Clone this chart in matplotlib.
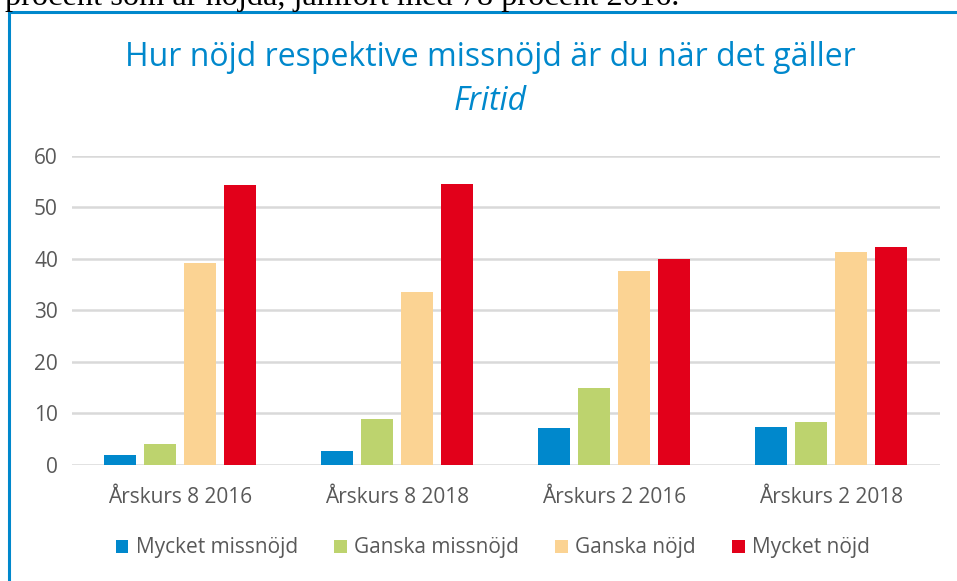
import numpy as np
import matplotlib.pyplot as plt
from matplotlib.lines import Line2D

plt.rcParams['font.family'] = ['Open Sans', 'DejaVu Sans']

# data
groups = ['Årskurs 8 2016', 'Årskurs 8 2018', 'Årskurs 2 2016', 'Årskurs 2 2018']
series = ['Mycket missnöjd', 'Ganska missnöjd', 'Ganska nöjd', 'Mycket nöjd']
mycket_missnojd = [1.9, 2.7, 7.2, 7.3]
ganska_missnojd = [4.1, 8.9, 15.0, 8.3]
ganska_nojd = [39.2, 33.6, 37.7, 41.4]
mycket_nojd = [54.4, 54.6, 40.0, 42.4]
colors = ['#0088CC', '#BDD36E', '#FBD393', '#E2001A']

values = [mycket_missnojd, ganska_missnojd, ganska_nojd, mycket_nojd]

fig = plt.figure(figsize=(9.57, 5.81), dpi=100)
ax = fig.add_axes([0.075, 0.1997, 0.907, 0.5318])

x = np.arange(len(groups))
w = 0.147
step = 0.184
for i, (vals, c, name) in enumerate(zip(values, colors, series)):
    ax.bar(x + (i - 1.5) * step, vals, width=w, color=c, label=name, zorder=3)

ax.set_ylim(0, 60)
ax.set_xlim(-0.5, 3.5)
ax.set_yticks(range(0, 61, 10))
ax.yaxis.grid(True, color='#D9D9D9', linewidth=1.8, zorder=0)
for s in ax.spines.values():
    s.set_visible(False)
ax.tick_params(length=0, labelsize=15, colors='#595959')
ax.tick_params(axis='y', pad=10)
ax.tick_params(axis='x', pad=16)
ax.set_xticks(x)
ax.set_xticklabels(groups)

# titles
fig.text(0.512, 1 - 58 / 581, 'Hur nöjd respektive missnöjd är du när det gäller',
         ha='center', va='center', fontsize=23, color='#0088CC')
fig.text(0.512, 1 - 102 / 581, 'Fritid', ha='center', va='center',
         fontsize=23, color='#0088CC', style='italic')

fig.legend(loc='center', bbox_to_anchor=(0.515, 1 - 548 / 581), ncol=4,
           frameon=False, fontsize=15, handlelength=0.6, handleheight=0.6,
           handletextpad=0.35, columnspacing=1.75, labelcolor='#595959')

# cropped text above the chart box
fig.text(0.005, 1 - 5 / 581, 'procent som är nöjda, jämfört med 78 procent 2016.',
         ha='left', va='baseline', fontsize=23.3, family='Liberation Serif', color='black')

# blue frame
fig.add_artist(Line2D([9 / 957, 9 / 957], [0, 1 - 12 / 581], color='#0088CC', lw=2.2))
fig.add_artist(Line2D([9 / 957, 1], [1 - 12 / 581, 1 - 12 / 581], color='#0088CC', lw=2.2))

fig.savefig('out.png', dpi=100)
